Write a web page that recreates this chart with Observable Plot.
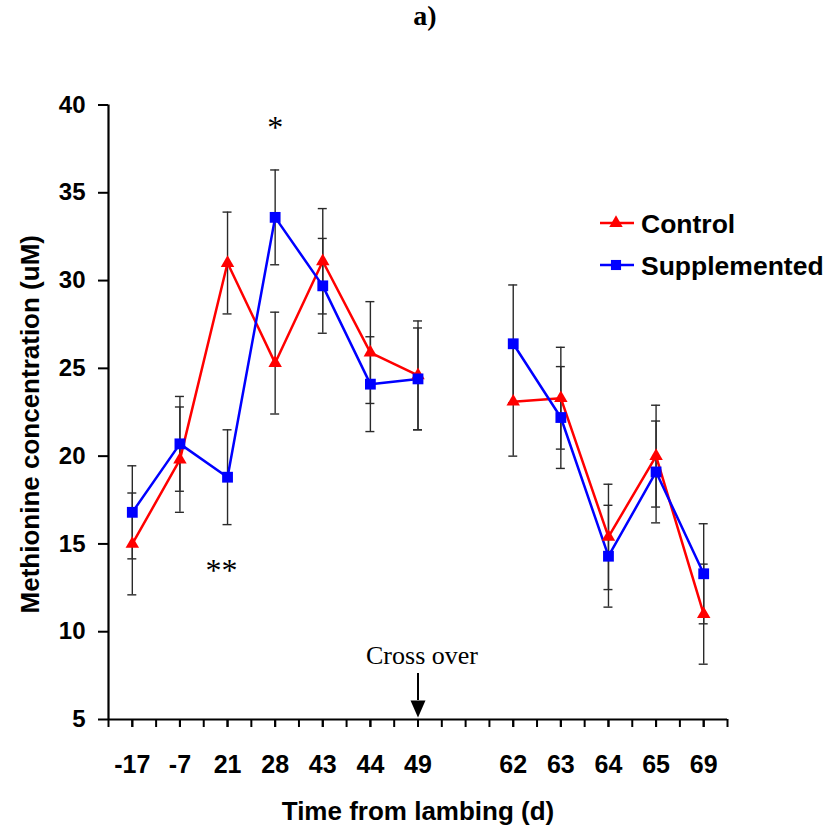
<!DOCTYPE html>
<html>
<head>
<meta charset="utf-8">
<script src="https://cdn.jsdelivr.net/npm/d3@7"></script>
<script src="https://cdn.jsdelivr.net/npm/@observablehq/plot@0.6"></script>
<style>
  body { margin: 0; background: #fff; }
  #wrap { position: relative; width: 832px; height: 834px; }
  #title { height: 50px; line-height: 52px; text-align: center; padding-left: 18px;
           font: bold 28px "Liberation Serif", "Times New Roman", serif; color: #000; }
  #legend { position: absolute; left: 598px; top: 200px; }
</style>
</head>
<body>
<div id="wrap">
  <div id="title">a)</div>
  <div id="chart"></div>
  <svg id="legend" width="234" height="90"></svg>
</div>
<script>
// ---- data ----
const days = ["-17", "-7", "21", "28", "43", "44", "49", "62", "63", "64", "65", "69"];
const control = [15.0, 19.8, 31.0, 25.3, 31.1, 25.9, 24.6, 23.1, 23.3, 15.4, 20.0, 11.0];
const controlErr = [2.9, 3.0, 2.9, 2.9, 3.0, 2.9, 3.1, 3.1, 2.9, 3.0, 2.9, 2.85];
const supplemented = [16.8, 20.7, 18.8, 33.6, 29.7, 24.1, 24.4, 26.4, 22.2, 14.3, 19.1, 13.3];
const supplementedErr = [2.65, 2.7, 2.7, 2.7, 2.7, 2.7, 2.9, 3.35, 2.9, 2.9, 2.9, 2.85];
const yTicks = [5, 10, 15, 20, 25, 30, 35, 40];
const seriesNames = ["Control", "Supplemented"];
const seriesColors = ["#ff0000", "#0000ff"];
const crossOverDay = "49";
const singleStar = {label: "*", day: "28", value: 38.7};
const doubleStar = {label: "**", day: "21", value: 13.5};
const crossOver = {label: "Cross over", day: "49", textValue: 8.66, from: 7.62, to: 6.08, head: 5.6};

// ---- layout helpers ----
const gapAfter = days.indexOf(crossOverDay); // an empty slot follows the cross-over day
const slot = i => (i <= gapAfter ? i : i + 1);
const nSlots = days.length + 1;
const slotLabel = new Map(days.map((d, i) => [slot(i), d]));
const slotOf = d => slot(days.indexOf(d));

const makeRows = (vals, errs, name) => vals.map((v, i) => ({
  series: name, day: days[i], x: slot(i), y: v, e: errs[i], phase: i <= gapAfter ? 1 : 2
}));
const ctrl = makeRows(control, controlErr, seriesNames[0]);
const supp = makeRows(supplemented, supplementedErr, seriesNames[1]);
const all = [...ctrl, ...supp];

const downTriangle = {
  draw(ctx) { ctx.moveTo(0, 8.5); ctx.lineTo(-7.5, -8.5); ctx.lineTo(7.5, -8.5); ctx.closePath(); }
};

const serifFont = "'Liberation Serif', 'Times New Roman', serif";
const starOpts = {x: d => slotOf(d.day), y: "value", text: "label", fontSize: 32, fontWeight: "normal", fontFamily: serifFont, lineAnchor: "middle", textAnchor: "middle"};

const chart = Plot.plot({
  width: 832,
  height: 784,
  marginTop: 54.5,
  marginBottom: 115,
  marginLeft: 108,
  marginRight: 105,
  style: {fontFamily: "'Liberation Sans', Arial, sans-serif", fontWeight: "bold", color: "#000", background: "transparent"},
  x: {domain: [-0.5, nSlots - 0.5], axis: null},
  y: {domain: [5, 40], axis: null},
  marks: [
    // axes
    Plot.axisY({ticks: yTicks, tickSize: 10, tickPadding: 13, fontSize: 24, strokeWidth: 2, label: null, tickFormat: d => String(d)}),
    Plot.axisX({ticks: d3.range(-0.5, nSlots - 0.49, 0.5), tickSize: 8, strokeWidth: 2, tickFormat: () => "", label: null}),
    Plot.axisX({ticks: [...slotLabel.keys()], tickSize: 8, tickPadding: 28, strokeWidth: 2, fontSize: 25, tickFormat: i => slotLabel.get(i), label: null}),
    Plot.ruleX([-0.5], {stroke: "#000", strokeWidth: 2.2}),
    Plot.ruleY([5], {stroke: "#000", strokeWidth: 2.2}),
    // error bars
    Plot.ruleX(all, {x: "x", y1: d => d.y - d.e, y2: d => d.y + d.e, stroke: "#2a2a2a", strokeWidth: 1.4}),
    Plot.ruleY(all, {x1: "x", x2: "x", y: d => d.y + d.e, insetLeft: -4.5, insetRight: -4.5, stroke: "#2a2a2a", strokeWidth: 1.4}),
    Plot.ruleY(all, {x1: "x", x2: "x", y: d => d.y - d.e, insetLeft: -4.5, insetRight: -4.5, stroke: "#2a2a2a", strokeWidth: 1.4}),
    // series
    Plot.line(ctrl, {x: "x", y: "y", z: "phase", stroke: seriesColors[0], strokeWidth: 2.5}),
    Plot.line(supp, {x: "x", y: "y", z: "phase", stroke: seriesColors[1], strokeWidth: 2.5}),
    Plot.dot(ctrl, {x: "x", y: "y", symbol: "triangle", r: 5, fill: seriesColors[0], stroke: "none"}),
    Plot.dot(supp, {x: "x", y: "y", symbol: "square", r: 6.1, fill: seriesColors[1], stroke: "none"}),
    // annotations
    Plot.text([singleStar], {...starOpts}),
    Plot.text([doubleStar], {...starOpts, dx: -6}),
    Plot.text([crossOver], {x: d => slotOf(d.day), y: "textValue", text: "label", dx: 4, fontSize: 26, fontWeight: "normal", fontFamily: serifFont, lineAnchor: "middle", textAnchor: "middle"}),
    Plot.ruleX([crossOver], {x: d => slotOf(d.day), y1: "from", y2: "to", stroke: "#000", strokeWidth: 2}),
    Plot.dot([crossOver], {x: d => slotOf(d.day), y: "head", symbol: downTriangle, fill: "#000", stroke: "none"}),
    // axis titles
    Plot.text(["Methionine concentration (uM)"], {frameAnchor: "left", dx: -78, dy: 12, rotate: -90, fontSize: 26, textAnchor: "middle", lineAnchor: "middle"}),
    Plot.text(["Time from lambing (d)"], {frameAnchor: "bottom", dy: 92, fontSize: 26, textAnchor: "middle", lineAnchor: "middle"})
  ]
});
document.getElementById("chart").appendChild(chart);

// ---- legend ----
const lg = d3.select("#legend");
seriesNames.forEach((name, k) => {
  const cy = 23 + k * 42;
  const g = lg.append("g");
  g.append("line").attr("x1", 2).attr("x2", 36).attr("y1", cy).attr("y2", cy)
    .attr("stroke", seriesColors[k]).attr("stroke-width", 2.5);
  const sym = k === 0 ? d3.symbolTriangle : d3.symbolSquare;
  const r = k === 0 ? 5 : 5.7;
  g.append("path").attr("d", d3.symbol(sym, Math.PI * r * r)()).attr("transform", `translate(18,${cy})`)
    .attr("fill", seriesColors[k]);
  g.append("text").attr("x", 43).attr("y", cy + 9.5).text(name)
    .attr("font-family", "'Liberation Sans', Arial, sans-serif").attr("font-weight", "bold")
    .attr("font-size", 26.5).attr("fill", "#000");
});
</script>
</body>
</html>
